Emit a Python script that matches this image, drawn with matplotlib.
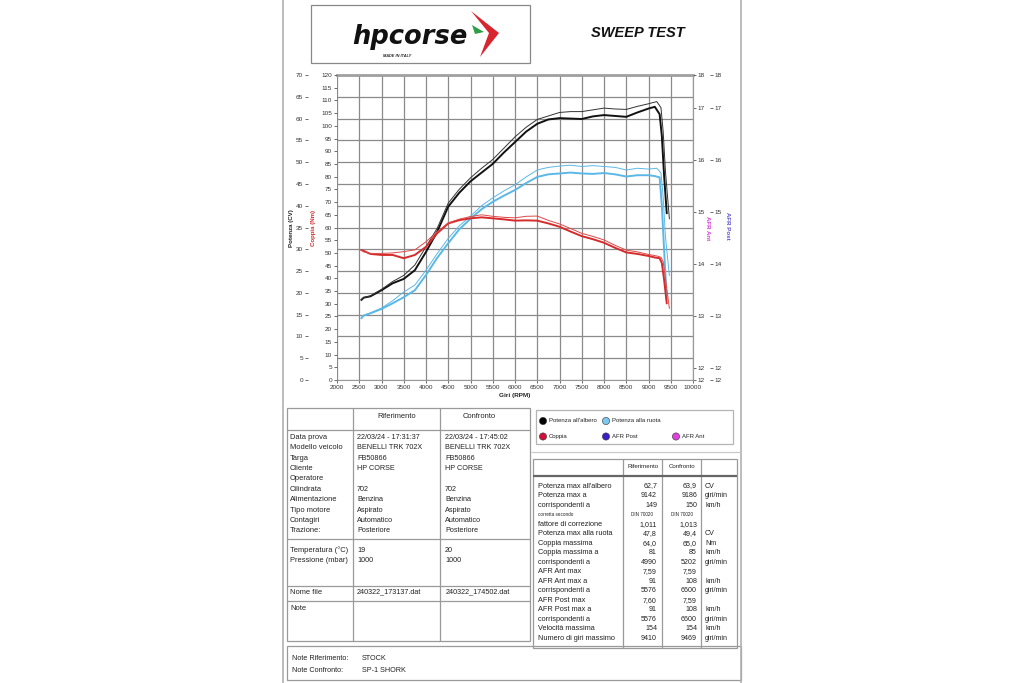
import matplotlib
matplotlib.use('Agg')
import matplotlib.pyplot as plt
from matplotlib.patches import Rectangle, Polygon, Circle

plt.rcParams['font.family'] = ['Liberation Sans', 'DejaVu Sans']

# ---- curve data ----
# thick = Riferimento (STOCK), thin = Confronto (SP-1 SHORK)
rpm_rif = [2550, 2600, 2750, 3000, 3250, 3500, 3750, 4000, 4250, 4500, 4750, 5000,
           5250, 5500, 5750, 6000, 6250, 6500, 6750, 7000, 7250, 7500, 7750, 8000,
           8250, 8500, 8750, 9000, 9142, 9250, 9300, 9350, 9410]
cv_albero_rif = [18.4, 18.9, 19.2, 20.6, 22.2, 23.2, 25.2, 29.4, 34.0, 39.8, 43.0, 45.6,
                 47.6, 49.6, 52.2, 54.6, 57.0, 58.8, 59.8, 60.1, 60.0, 59.9, 60.5, 60.8,
                 60.6, 60.4, 61.4, 62.3, 62.7, 61.0, 56.0, 47.0, 38.3]
cv_ruota_rif = [14.2, 14.8, 15.3, 16.3, 17.6, 19.0, 20.6, 24.1, 28.0, 31.4, 34.6, 37.0,
                39.2, 40.9, 42.3, 43.6, 45.2, 46.6, 47.2, 47.4, 47.6, 47.4, 47.3, 47.5,
                47.2, 46.7, 47.0, 47.0, 46.8, 46.5, 40.0, 30.0, 18.5]
nm_rif = [51.1, 50.8, 49.6, 49.2, 49.2, 47.9, 49.2, 52.4, 57.7, 61.6, 62.9, 63.6,
          64.0, 63.6, 63.2, 62.7, 62.8, 62.7, 61.6, 60.3, 58.4, 56.6, 55.4, 54.0,
          52.0, 50.2, 49.6, 48.8, 48.2, 47.9, 46.0, 39.5, 30.2]

rpm_conf = [2550, 2600, 2750, 3000, 3250, 3500, 3750, 4000, 4250, 4500, 4750, 5000,
            5250, 5500, 5750, 6000, 6250, 6500, 6750, 7000, 7250, 7500, 7750, 8000,
            8250, 8500, 8750, 9000, 9186, 9280, 9330, 9380, 9469]
cv_albero_conf = [18.4, 18.9, 19.3, 20.8, 22.6, 24.0, 26.4, 30.6, 34.8, 40.6, 43.8, 46.4,
                  48.6, 50.6, 53.2, 55.8, 58.0, 59.8, 60.6, 61.4, 61.6, 61.6, 62.0, 62.4,
                  62.2, 62.1, 62.8, 63.4, 63.9, 62.5, 57.0, 48.0, 37.0]
cv_ruota_conf = [14.2, 14.8, 15.4, 16.5, 18.2, 20.2, 21.8, 25.2, 29.0, 32.5, 35.4, 37.6,
                 40.0, 41.8, 43.4, 44.8, 46.6, 48.2, 48.8, 49.1, 49.3, 49.0, 49.2, 49.0,
                 48.8, 48.2, 48.6, 48.4, 48.6, 47.5, 42.0, 33.0, 24.0]
nm_conf = [51.1, 50.4, 49.8, 49.8, 50.0, 50.5, 51.2, 54.4, 58.3, 61.8, 63.3, 64.3,
           65.0, 64.4, 64.0, 63.8, 64.4, 64.5, 62.8, 61.4, 59.6, 57.7, 56.5, 55.1,
           53.0, 51.1, 50.4, 49.4, 48.8, 48.3, 46.5, 40.0, 28.2]

rpm_ticks = list(range(2000, 10001, 500))
cv_ticks = list(range(0, 71, 5))
nm_ticks = list(range(0, 121, 5))
afr_ticks = [11.77, 12, 13, 14, 15, 16, 17, 17.63]
afr_labels = ['12', '12', '13', '14', '15', '16', '17', '18']

# ---- table data ----
info_labels = ["Data prova", "Modello veicolo", "Targa", "Cliente", "Operatore", "Cilindrata",
               "Alimentazione", "Tipo motore", "Contagiri", "Trazione:"]
info_rif = ["22/03/24 - 17:31:37", "BENELLI TRK 702X", "FB50866", "HP CORSE", "", "702",
            "Benzina", "Aspirato", "Automatico", "Posteriore"]
info_conf = ["22/03/24 - 17:45:02", "BENELLI TRK 702X", "FB50866", "HP CORSE", "", "702",
             "Benzina", "Aspirato", "Automatico", "Posteriore"]
env_labels = ["Temperatura (°C)", "Pressione (mbar)"]
env_rif = ["19", "1000"]
env_conf = ["20", "1000"]
file_rif = "240322_173137.dat"
file_conf = "240322_174502.dat"

res_labels = ["Potenza max all'albero", "Potenza max a", "corrispondenti a", "corretta secondo",
              "fattore di correzione", "Potenza max alla ruota", "Coppia massima",
              "Coppia massima a", "corrispondenti a", "AFR Ant max", "AFR Ant max a",
              "corrispondenti a", "AFR Post max", "AFR Post max a", "corrispondenti a",
              "Velocità massima", "Numero di giri massimo"]
res_rif = ["62,7", "9142", "149", "DIN 70020", "1,011", "47,8", "64,0", "81", "4990", "7,59",
           "91", "5576", "7,60", "91", "5576", "154", "9410"]
res_conf = ["63,9", "9186", "150", "DIN 70020", "1,013", "49,4", "65,0", "85", "5202", "7,59",
            "108", "6600", "7,59", "108", "6600", "154", "9469"]
res_units = ["CV", "giri/min", "km/h", "", "", "CV", "Nm", "km/h", "giri/min", "", "km/h",
             "giri/min", "", "km/h", "giri/min", "km/h", "giri/min"]

legend_items = [("Potenza all'albero", '#000000'), ("Potenza alla ruota", '#7cc8ee'),
                ("Coppia", '#d0103a'), ("AFR Post", '#3a1fc8'), ("AFR Ant", '#e040e0')]

BLACK = '#111111'
BLUE = '#5bb8e6'
RED = '#d62b2b'
GRID = '#8a8a8a'
EDGE = '#9a9a9a'

fig = plt.figure(figsize=(10.24, 6.83), dpi=100)

# page layer in pixel coordinates
page = fig.add_axes([0, 0, 1, 1])
page.set_xlim(0, 1024)
page.set_ylim(683, 0)
page.axis('off')


def box(x0, y0, x1, y1, color=EDGE, lw=0.9):
    page.add_patch(Rectangle((x0, y0), x1 - x0, y1 - y0, fill=False, ec=color, lw=lw))


def line(x0, y0, x1, y1, color=EDGE, lw=0.9):
    page.plot([x0, x1], [y0, y1], color=color, lw=lw, solid_capstyle='butt')


def txt(x, y, s, size=5.2, **kw):
    page.text(x, y, s, fontsize=size, va='center', color=kw.pop('color', '#222222'), **kw)


# page border
line(283, 0, 283, 683, color='#b0b0b0', lw=1.2)
line(741, 0, 741, 683, color='#b0b0b0', lw=1.2)

# header: logo + title
box(311, 5, 530, 63, color='#888888', lw=0.9)
page.text(410, 37, "hpcorse", fontsize=18.5, fontweight='bold', style='italic',
          family='DejaVu Sans', ha='center', va='center', color='#111111')
page.text(397, 56, "MADE IN ITALY", fontsize=2.8, fontweight='bold', style='italic',
          ha='center', va='center', color='#222222')
page.add_patch(Polygon([(471, 11), (499, 33), (480, 57), (489, 33)], closed=True,
                       fc='#d8262e', ec='none'))
page.add_patch(Polygon([(472, 25), (484, 32), (475, 34)], closed=True,
                       fc='#2e9e48', ec='none'))
page.text(638, 33, "SWEEP TEST", fontsize=10.5, fontweight='bold', style='italic',
          ha='center', va='center', color='#111111')

# ---- chart ----
ax = fig.add_axes([337 / 1024, 1 - 380 / 683, 356 / 1024, 305 / 683])
ax.set_xlim(2000, 10000)
ax.set_ylim(0, 70)
ax.set_xticks(rpm_ticks)
ax.set_yticks(cv_ticks)
ax.grid(True, color=GRID, lw=0.9)
ax.set_axisbelow(True)
ax.tick_params(labelsize=4.6, length=2, width=0.6, color='#555555', pad=1.5,
               labelcolor='#333333')
ax.spines['left'].set_position(('outward', 21))
ax.spines['left'].set_visible(False)
for s in ['bottom', 'right']:
    ax.spines[s].set_color(EDGE)
    ax.spines[s].set_linewidth(0.8)
ax.spines['top'].set_color('#a0a0a0')
ax.spines['top'].set_linewidth(2)

ax.plot(rpm_rif, cv_ruota_rif, color=BLUE, lw=1.4)
ax.plot(rpm_conf, cv_ruota_conf, color=BLUE, lw=0.7)
ax.plot(rpm_rif, cv_albero_rif, color=BLACK, lw=1.4)
ax.plot(rpm_conf, cv_albero_conf, color='#333333', lw=0.7)

ax_nm = ax.twinx()
ax_nm.set_ylim(0, 120)
ax_nm.set_yticks(nm_ticks)
ax_nm.yaxis.tick_left()
ax_nm.tick_params(labelsize=4.6, length=2, width=0.6, color='#555555', pad=1.5,
                  labelcolor='#333333')
for s in ax_nm.spines.values():
    s.set_visible(False)
ax_nm.plot(rpm_rif, nm_rif, color=RED, lw=1.4)
ax_nm.plot(rpm_conf, nm_conf, color='#e04848', lw=0.7)

ax_afr1 = ax.twinx()
ax_afr2 = ax.twinx()
for a in (ax_afr1, ax_afr2):
    a.set_ylim(afr_ticks[0], afr_ticks[-1])
    a.set_yticks(afr_ticks)
    a.set_yticklabels(afr_labels)
    a.tick_params(labelsize=4.6, length=2, width=0.6, color='#555555', pad=1.5,
                  labelcolor='#333333')
    for s in ['left', 'top', 'bottom']:
        a.spines[s].set_visible(False)
ax_afr1.spines['right'].set_color(EDGE)
ax_afr2.spines['right'].set_position(('outward', 12))
ax_afr2.spines['right'].set_visible(False)

# axis titles
page.text(291, 228, "Potenza (CV)", fontsize=4.4, fontweight='bold', rotation=90,
          ha='center', va='center', color='#222222')
page.text(314, 228, "Coppia (Nm)", fontsize=4.4, fontweight='bold', rotation=90,
          ha='center', va='center', color='#d62b2b')
page.text(515, 396, "Giri (RPM)", fontsize=4.6, fontweight='bold',
          ha='center', va='center', color='#222222')
page.text(707, 228, "AFR Ant", fontsize=4.4, fontweight='bold', rotation=270,
          ha='center', va='center', color='#d83cd8')
page.text(727, 226, "AFR Post", fontsize=4.4, fontweight='bold', rotation=270,
          ha='center', va='center', color='#5a4fcf')

# line-style note inside the plot
box(352, 88, 452, 99, color='#666666', lw=0.8)
box(352, 99, 452, 110, color='#666666', lw=0.8)
page.add_patch(Rectangle((352.5, 88.5), 99, 21, fc='white', ec='none', zorder=0))
txt(356, 93.5, "Riferimento: linee spesse", size=5)
txt(356, 104.5, "Confronto: linee sottili", size=5)

# ---- left info table ----
box(287, 408, 530, 641)
line(353, 408, 353, 641)
line(440, 408, 440, 641)
line(287, 430, 530, 430)
line(287, 539, 530, 539)
line(287, 586, 530, 586)
line(287, 601, 530, 601)
txt(397, 417, "Riferimento", size=5.4, ha='center')
txt(479, 417, "Confronto", size=5.4, ha='center')
for i, (lab, r, c) in enumerate(zip(info_labels, info_rif, info_conf)):
    y = 437.3 + i * 10.4
    txt(290, y, lab, size=5.4)
    txt(357, y, r, size=5.2)
    txt(445, y, c, size=5.2)
for i, (lab, r, c) in enumerate(zip(env_labels, env_rif, env_conf)):
    y = 550 + i * 11
    txt(290, y, lab, size=5.4)
    txt(357, y, r, size=5.2)
    txt(445, y, c, size=5.2)
txt(290, 592, "Nome file", size=5.4)
txt(357, 592, file_rif, size=5.2)
txt(446, 592, file_conf, size=5.2)
txt(290, 609, "Note", size=5.4)

# notes box
box(287, 646, 741, 680)
txt(292, 659, "Note Riferimento:", size=5.2)
txt(362, 659, "STOCK", size=5.2)
txt(292, 671, "Note Confronto:", size=5.2)
txt(362, 671, "SP-1 SHORK", size=5.2)

# ---- legend box ----
box(536, 410, 733, 444, color='#b5b5b5')
leg_pos = [(543, 421), (606, 421), (543, 436.5), (606, 436.5), (676, 436.5)]
for (lab, col), (x, y) in zip(legend_items, leg_pos):
    page.add_patch(Circle((x, y), 3.6, fc=col, ec='#333333', lw=0.4))
    txt(x + 6, y, lab, size=4.3)

# ---- results table ----
line(531, 452, 741, 452, color='#c8c8c8')
box(533, 459, 737, 648)
line(623, 459, 623, 648)
line(662, 459, 662, 648)
line(701, 459, 701, 648)
line(533, 476, 737, 476, color='#666666', lw=1.6)
txt(643, 466, "Riferimento", size=4.4, ha='center')
txt(682, 466, "Confronto", size=4.4, ha='center')
for i, (lab, r, c, u) in enumerate(zip(res_labels, res_rif, res_conf, res_units)):
    y = 486 + i * 9.52
    if lab == "corretta secondo":
        txt(538, y, lab, size=3.3)
        txt(642, y, r, size=3.3, ha='center')
        txt(682, y, c, size=3.3, ha='center')
        continue
    txt(538, y, lab, size=5.3)
    txt(657, y, r, size=5.1, ha='right')
    txt(697, y, c, size=5.1, ha='right')
    txt(705, y, u, size=5.1)

fig.savefig('out.png', dpi=100, facecolor='white')
